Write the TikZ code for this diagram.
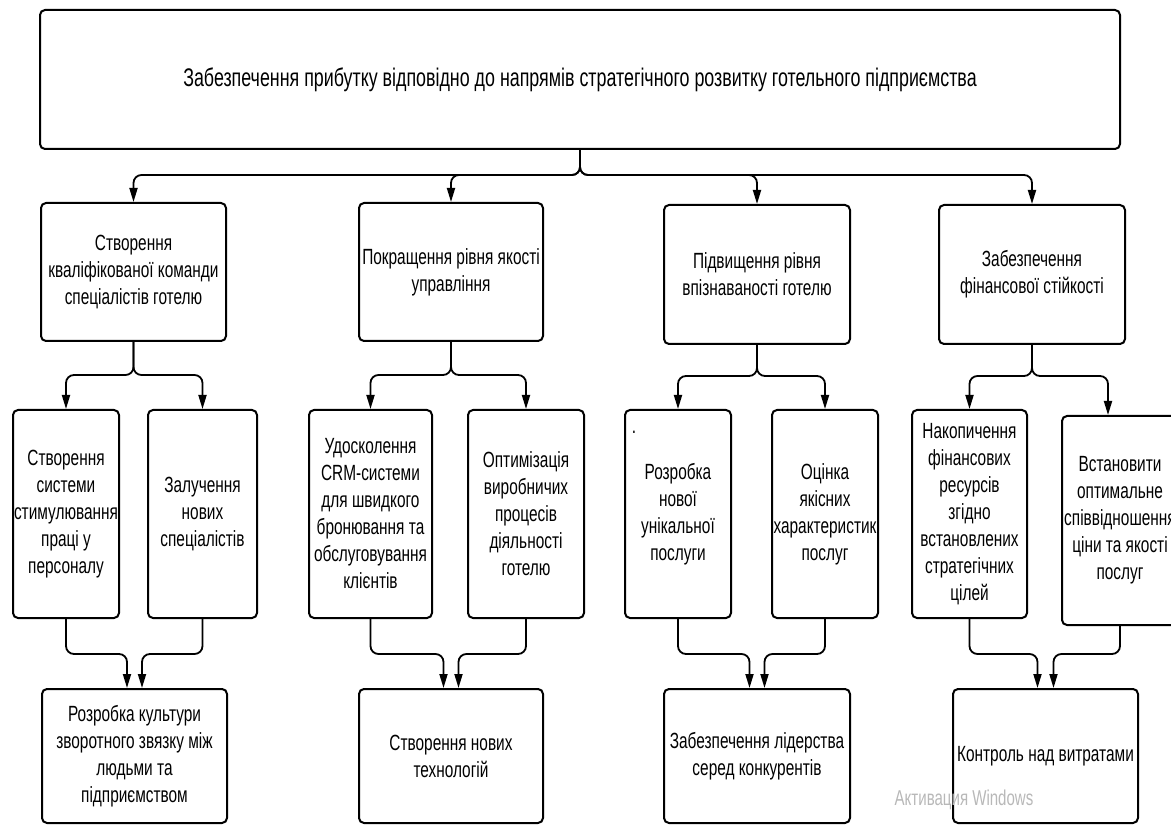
\documentclass[tikz,border=0pt]{standalone}
\usepackage{fontspec}
\setmainfont{Liberation Sans}[FakeStretch=0.7]
\usepackage{tikz}
\usetikzlibrary{arrows.meta}

\tikzset{
  blok/.style={draw, line width=2pt, rounded corners=5pt, align=center,
    inner sep=0pt, font=\fontsize{22}{27}\selectfont},
  arr/.style={-{Triangle[length=14pt,width=8pt]}, line width=1.8pt, rounded corners=8pt}
}

\begin{document}
\begin{tikzpicture}[x=1pt,y=-1pt]
    \useasboundingbox (0,0) rectangle (1171,826);
    \clip (0,0) rectangle (1171,826);
    \node[blok, minimum width=1080, minimum height=139, font=\fontsize{25.5}{30}\selectfont] (top) at (580,79.5)
      {Забезпечення прибутку відповідно до напрямів стратегічного розвитку готельного підприємства};
    % second row
    \node[blok, minimum width=185, minimum height=138] (team) at (133.5,272)
      {Створення\\кваліфікованої команди\\спеціалістів готелю};
    \node[blok, minimum width=184, minimum height=138] (upr) at (451,272)
      {Покращення рівня якості\\управління};
    \node[blok, minimum width=186, minimum height=139] (vpiz) at (757,274.5)
      {Підвищення рівня\\впізнаваності готелю};
    \node[blok, minimum width=186, minimum height=139] (fin) at (1032,274.5)
      {Забезпечення\\фінансової стійкості};
    % third row
    \node[blok, minimum width=106, minimum height=208] (stym) at (66,514)
      {Створення\\системи\\стимулювання\\праці у\\персоналу};
    \node[blok, minimum width=109, minimum height=208] (zal) at (202.5,514)
      {Залучення\\нових\\спеціалістів};
    \node[blok, minimum width=123, minimum height=208] (crm) at (370.5,514)
      {Удосколення\\CRM-системи\\для швидкого\\бронювання та\\обслуговування\\клієнтів};
    \node[blok, minimum width=116, minimum height=208] (opt) at (526,514)
      {Оптимізація\\виробничих\\процесів\\діяльності\\готелю};
    \node[blok, minimum width=106, minimum height=208] (posl) at (678,514)
      {Розробка\\нової\\унікальної\\послуги};
    \node[font=\fontsize{22}{27}\selectfont] (dotp) at (634,432) {.};
    \node[blok, minimum width=106, minimum height=208] (ocin) at (825,514)
      {Оцінка\\якісних\\характеристик\\послуг};
    \node[blok, minimum width=115, minimum height=208] (nak) at (969.5,514)
      {Накопичення\\фінансових\\ресурсів\\згідно\\встановлених\\стратегічних\\цілей};
    \node[blok, minimum width=116, minimum height=209] (vst) at (1120,520.5)
      {Встановити\\оптимальне\\співвідношення\\ціни та якості\\послуг};
    % bottom row
    \node[blok, minimum width=185, minimum height=134] (kult) at (134.5,756)
      {Розробка культури\\зворотного звязку між\\людьми та\\підприємством};
    \node[blok, minimum width=184, minimum height=134] (tech) at (451,756)
      {Створення нових\\технологій};
    \node[blok, minimum width=186, minimum height=134] (lid) at (757,756)
      {Забезпечення лідерства\\серед конкурентів};
    \node[blok, minimum width=185, minimum height=134] (kontr) at (1045.5,756)
      {Контроль над витратами};
    \node[text=black!28, font=\fontsize{21.5}{24}\selectfont] (wm) at (964,800) {Активация Windows};
    % connectors
    \foreach \n in {team,upr,vpiz,fin}
      \draw[arr] (top.south) -- ++(0,25) -| (\n.north);
    \draw[arr] (team.south) -- ++(0,33) -| (stym.north);
    \draw[arr] (team.south) -- ++(0,33) -| (zal.north);
    \draw[arr] (upr.south) -- ++(0,33) -| (crm.north);
    \draw[arr] (upr.south) -- ++(0,33) -| (opt.north);
    \draw[arr] (vpiz.south) -- ++(0,31) -| (posl.north);
    \draw[arr] (vpiz.south) -- ++(0,31) -| (ocin.north);
    \draw[arr] (fin.south) -- ++(0,31) -| (nak.north);
    \draw[arr] (fin.south) -- ++(0,31) -| ([xshift=-12pt]vst.north);
    \draw[arr] (stym.south) -- ++(0,35) -| ([xshift=-7.5pt]kult.north);
    \draw[arr] (zal.south) -- ++(0,35) -| ([xshift=7.5pt]kult.north);
    \draw[arr] (crm.south) -- ++(0,35) -| ([xshift=-7.5pt]tech.north);
    \draw[arr] (opt.south) -- ++(0,35) -| ([xshift=7.5pt]tech.north);
    \draw[arr] (posl.south) -- ++(0,35) -| ([xshift=-7.5pt]lid.north);
    \draw[arr] (ocin.south) -- ++(0,35) -| ([xshift=7.5pt]lid.north);
    \draw[arr] (nak.south) -- ++(0,35) -| ([xshift=-8pt]kontr.north);
    \draw[arr] (vst.south) -- ++(0,28) -| ([xshift=8pt]kontr.north);
\end{tikzpicture}
\end{document}
